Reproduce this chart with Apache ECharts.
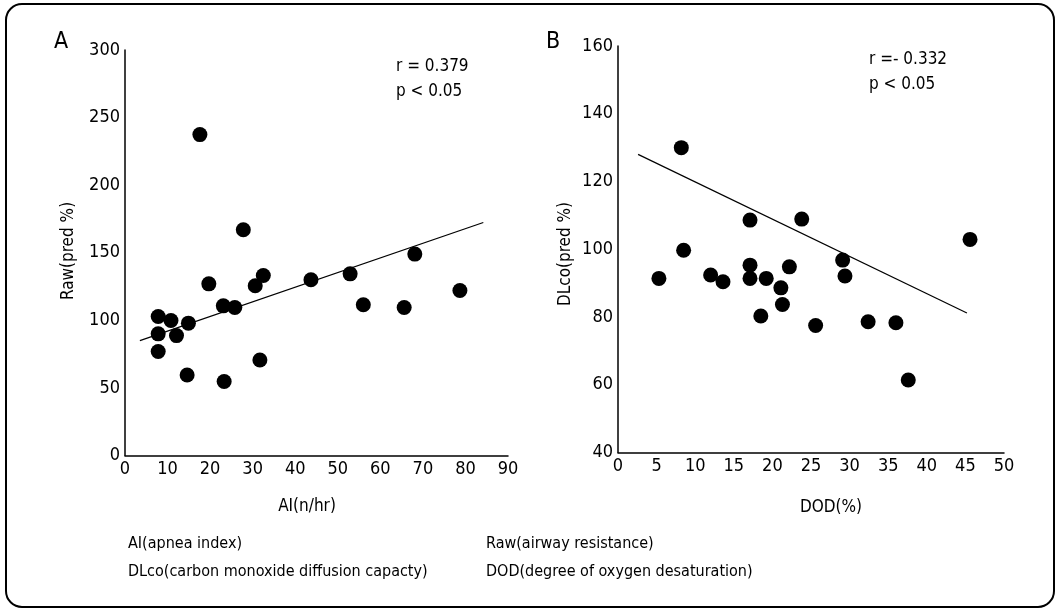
<!DOCTYPE html>
<html>
<head>
<meta charset="utf-8">
<script src="https://cdn.jsdelivr.net/npm/echarts@6/dist/echarts.min.js"></script>
<style>html,body{margin:0;padding:0;background:#fff}#c{width:1058px;height:611px}</style>
</head>
<body>
<div id="c"></div>
<script>
// Panel A: AI (n/hr) vs Raw (pred %)
const aiValues  = [7.8, 7.8, 7.8, 10.8, 12.1, 14.9, 14.6, 17.6, 19.7, 23.1, 25.8, 23.3, 27.8, 30.6, 32.5, 31.7, 43.7, 52.9, 56.0, 65.6, 68.1, 78.7];
const rawValues = [102.8, 90, 76.9, 99.9, 88.7, 97.9, 59.6, 237.4, 127, 110.7, 109.5, 54.7, 167, 125.6, 133.2, 70.7, 130, 134.4, 111.5, 109.5, 149, 122.1];
const lineA_x = [3.5, 84.2];
const lineA_y = [85, 172.4];
const xTicksA = [0, 10, 20, 30, 40, 50, 60, 70, 80, 90];
const yTicksA = [0, 50, 100, 150, 200, 250, 300];

// Panel B: DOD (%) vs DLco (pred %)
const dodValues  = [8.2, 8.5, 5.3, 12.0, 13.6, 17.1, 17.1, 17.1, 19.2, 22.2, 23.8, 21.1, 21.3, 18.5, 25.6, 29.1, 29.4, 32.4, 36.0, 37.6, 45.6];
const dlcoValues = [130, 99.7, 91.4, 92.4, 90.4, 108.6, 95.3, 91.4, 91.4, 94.8, 108.9, 88.6, 83.7, 80.3, 77.5, 96.8, 92.1, 78.6, 78.3, 61.4, 102.9];
const lineB_x = [2.6, 45.2];
const lineB_y = [128, 81.2];
const xTicksB = [0, 5, 10, 15, 20, 25, 30, 35, 40, 45, 50];
const yTicksB = [40, 60, 80, 100, 120, 140, 160];

const FONT = '"DejaVu Sans Condensed", "Liberation Sans Narrow", "Arial Narrow", sans-serif';

function zip(a, b) { return a.map((v, i) => [v, b[i]]); }

const chart = echarts.init(document.getElementById('c'), null, {renderer: 'canvas'});

function xAxisCfg(idx, ticks) {
  return {
    type: 'value', gridIndex: idx,
    min: ticks[0], max: ticks[ticks.length - 1], interval: ticks[1] - ticks[0],
    axisLine: {show: true, onZero: false, lineStyle: {color: '#000', width: 1.5}},
    axisTick: {show: false}, splitLine: {show: false},
    axisLabel: {color: '#000', fontSize: 18, fontFamily: FONT, margin: 5}
  };
}
function yAxisCfg(idx, ticks) {
  return {
    type: 'value', gridIndex: idx,
    min: ticks[0], max: ticks[ticks.length - 1], interval: ticks[1] - ticks[0],
    axisLine: {show: true, onZero: false, lineStyle: {color: '#000', width: 1.5}},
    axisTick: {show: false}, splitLine: {show: false},
    axisLabel: {color: '#000', fontSize: 18, fontFamily: FONT, margin: 5}
  };
}

function txt(x, y, s, size, align, rot) {
  return {
    type: 'text', x: x, y: y, rotation: rot || 0,
    style: {text: s, fill: '#000', font: size + 'px ' + FONT, align: align || 'left', verticalAlign: 'middle'}
  };
}

const option = {
  backgroundColor: '#fff',
  animation: false,
  grid: [
    {left: 125, top: 50, right: 550, bottom: 155.5},
    {left: 618, top: 46, right: 54, bottom: 158.5}
  ],
  xAxis: [xAxisCfg(0, xTicksA), xAxisCfg(1, xTicksB)],
  yAxis: [yAxisCfg(0, yTicksA), yAxisCfg(1, yTicksB)],
  series: [
    {type: 'scatter', xAxisIndex: 0, yAxisIndex: 0, data: zip(aiValues, rawValues),
     symbol: 'circle', symbolSize: 15, itemStyle: {color: '#000', opacity: 1}},
    {type: 'line', xAxisIndex: 0, yAxisIndex: 0, data: zip(lineA_x, lineA_y),
     symbol: 'none', lineStyle: {color: '#000', width: 1.2}},
    {type: 'scatter', xAxisIndex: 1, yAxisIndex: 1, data: zip(dodValues, dlcoValues),
     symbol: 'circle', symbolSize: 15, itemStyle: {color: '#000', opacity: 1}},
    {type: 'line', xAxisIndex: 1, yAxisIndex: 1, data: zip(lineB_x, lineB_y),
     symbol: 'none', lineStyle: {color: '#000', width: 1.2}}
  ],
  graphic: [
    {type: 'rect', shape: {x: 6, y: 4, width: 1048, height: 603, r: 16},
     style: {fill: 'none', stroke: '#000', lineWidth: 2}},
    txt(54, 42, 'A', 23),
    txt(546, 42, 'B', 23),
    txt(396, 67, 'r = 0.379', 17),
    txt(396, 92, 'p < 0.05', 17),
    txt(869, 60, 'r =- 0.332', 17),
    txt(869, 85, 'p < 0.05', 17),
    txt(69, 251, 'Raw(pred %)', 17, 'center', Math.PI / 2),
    txt(566, 254, 'DLco(pred %)', 17, 'center', Math.PI / 2),
    txt(307, 507, 'AI(n/hr)', 17, 'center'),
    txt(831, 508, 'DOD(%)', 17, 'center'),
    txt(128, 544, 'AI(apnea index)', 16),
    txt(486, 544, 'Raw(airway resistance)', 16),
    txt(128, 572, 'DLco(carbon monoxide diffusion capacty)', 16),
    txt(486, 572, 'DOD(degree of oxygen desaturation)', 16)
  ]
};
chart.setOption(option);
</script>
</body>
</html>
